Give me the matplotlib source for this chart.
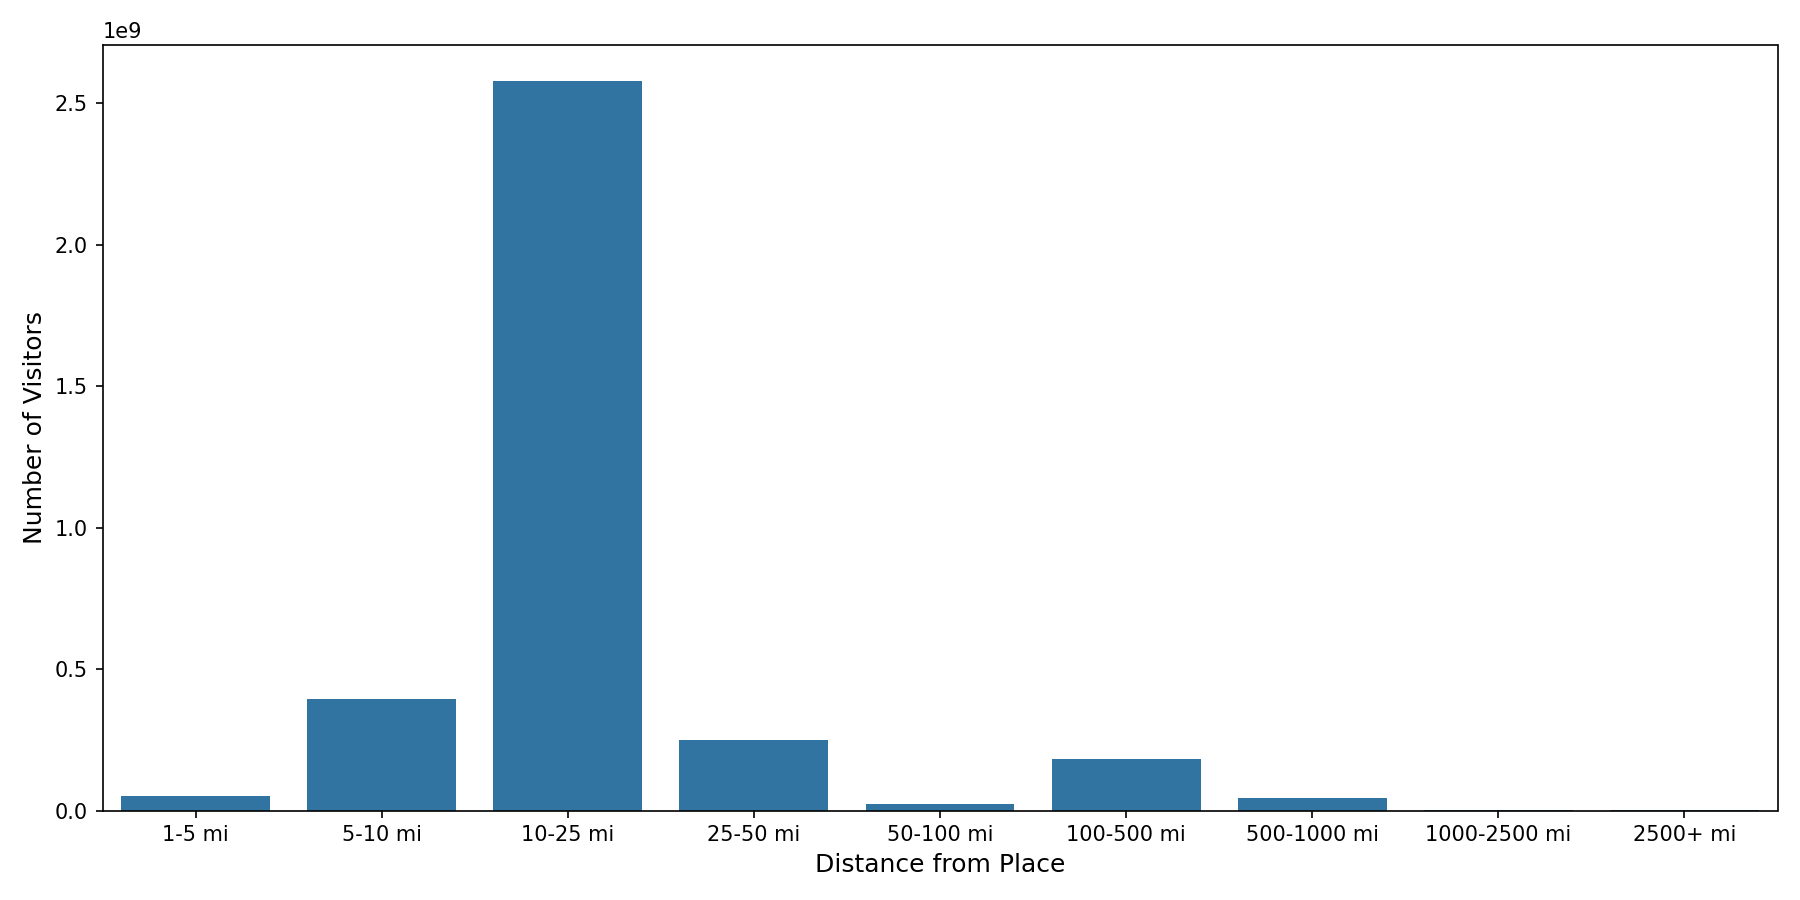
import matplotlib
matplotlib.use("Agg")
import matplotlib.pyplot as plt

categories = ["1-5 mi", "5-10 mi", "10-25 mi", "25-50 mi", "50-100 mi",
              "100-500 mi", "500-1000 mi", "1000-2500 mi", "2500+ mi"]
visitors = [0.053e9, 0.396e9, 2.578e9, 0.249e9, 0.024e9,
            0.184e9, 0.045e9, 0.002e9, 0.001e9]

fig, ax = plt.subplots(figsize=(12, 6), dpi=150)
x = range(len(categories))
ax.bar(x, visitors, width=0.8, color="#3274a1")
ax.set_xticks(list(x))
ax.set_xticklabels(categories)
ax.set_xlim(-0.5, len(categories) - 0.5)
ax.set_xlabel("Distance from Place", fontsize=12)
ax.set_ylabel("Number of Visitors", fontsize=12)
fig.tight_layout()
fig.savefig("out.png")
